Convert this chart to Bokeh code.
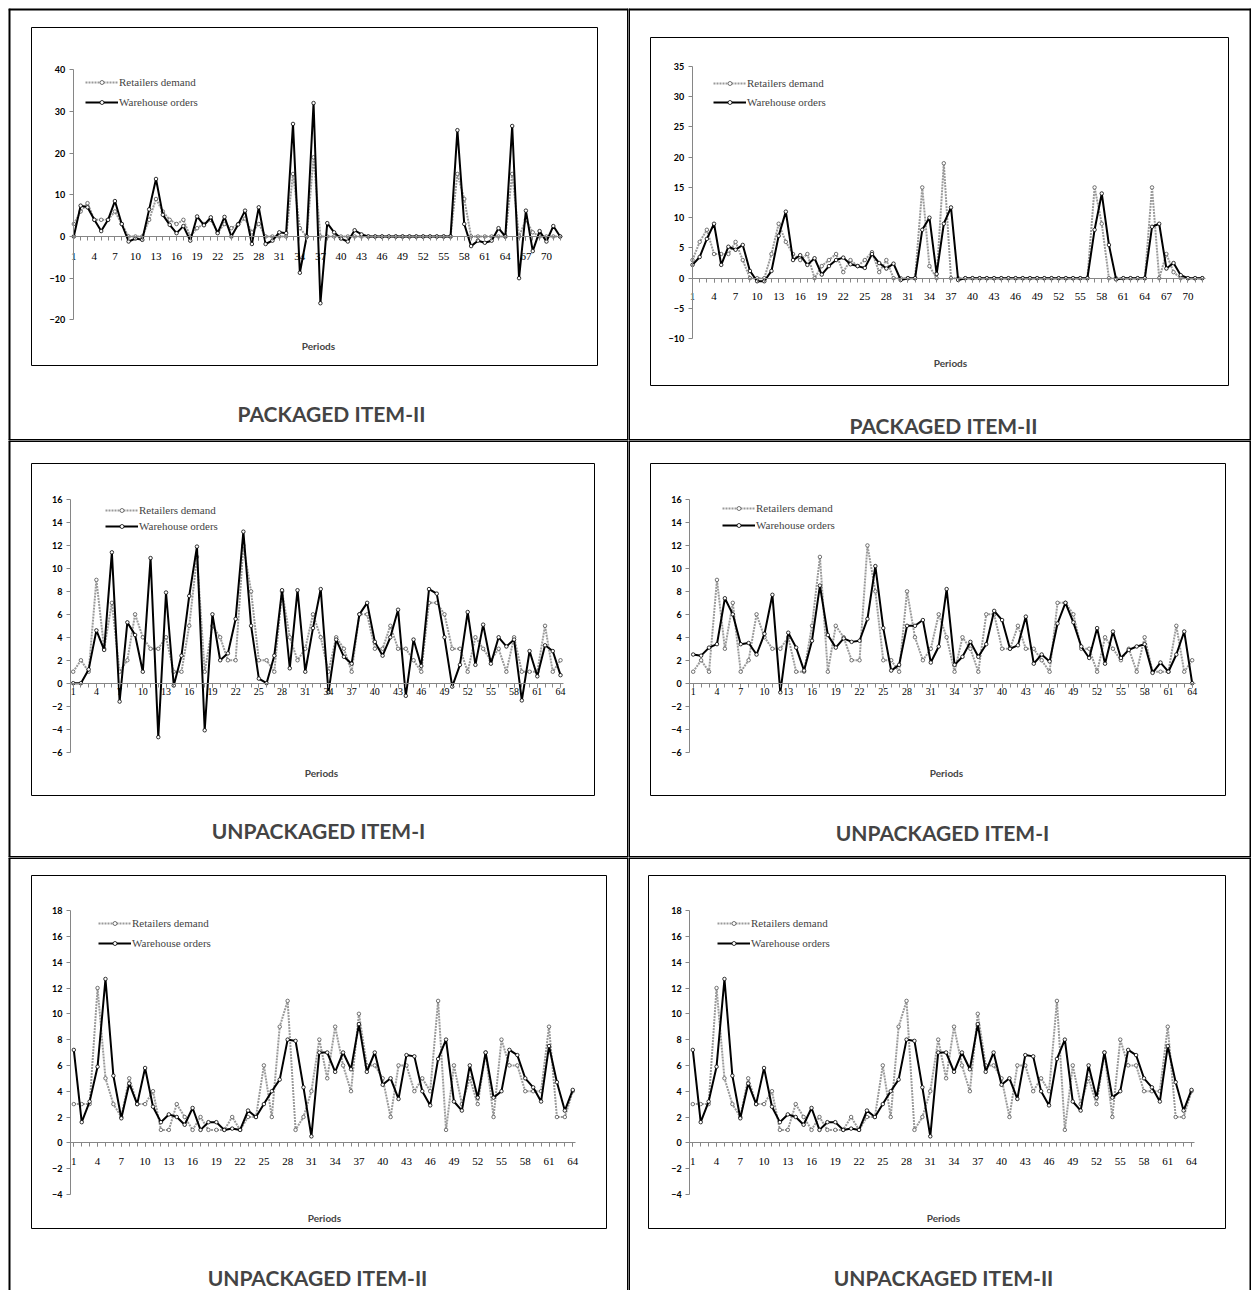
from bokeh.plotting import figure
from bokeh.models import (Range1d, FixedTicker, BoxAnnotation, Label, Legend, LegendItem,
                          Span, Spacer)
from bokeh.layouts import column, row
from bokeh.embed import file_html
from bokeh.resources import INLINE

# ---------------- data ----------------
periods_72 = list(range(1, 73))
periods_64 = list(range(1, 65))

# PACKAGED ITEM-II : retailers demand (same in both charts)
pk2_retailers = [3, 6, 8, 4, 4, 4, 6, 3, 0, 0, 0, 4, 9, 6, 4, 3, 4, 0, 2, 3,
                 4, 1, 3, 2, 3, 4.3, 1, 3, 0, 0, 0, 0, 15, 2, 0, 19, 0, 0, 0, 0,
                 0, 0, 0, 0, 0, 0, 0, 0, 0, 0, 0, 0, 0, 0, 0, 0, 15, 9, 0, 0,
                 0, 0, 0, 0, 15, 0, 4, 1, 0, 0, 0, 0]
pk2_warehouse_a = [0, 7.4, 7, 4, 1.3, 4, 8.5, 3, -1.2, -0.5, -0.8, 6.5, 13.8, 5.2, 2.8, 0.8, 2.5, -1, 4.8, 2.7,
                   4.6, 0.8, 4.7, 0, 2.9, 6.2, -1.8, 7, -1.8, -1, 1, 0.8, 27, -8.7, 0, 32, -16, 3.2, 1, -0.5,
                   -1.2, 1.5, 0.5, 0, 0, 0, 0, 0, 0, 0, 0, 0, 0, 0, 0, 0, 25.5, 3, -2.3, -1,
                   -1.5, -1, 2, 0, 26.5, -10, 6.2, -3.5, 1.3, -1.2, 2.5, 0]
pk2_warehouse_b = [2.2, 3.5, 6.5, 9, 2.2, 5.2, 4.7, 5.5, 1.2, -0.5, -0.5, 1.2, 7, 11, 3, 3.8, 2.2, 3.3, 0.6, 2,
                   3, 3.4, 2.3, 2, 1.7, 4, 2.5, 1.6, 2.4, -0.3, 0, 0, 8, 10, 0.7, 9, 11.7, -0.3, 0, 0,
                   0, 0, 0, 0, 0, 0, 0, 0, 0, 0, 0, 0, 0, 0, 0, 0, 8, 14, 5.5, -0.2,
                   0, 0, 0, 0, 8.5, 9, 1.6, 2.5, 0.5, 0, 0, 0]

# UNPACKAGED ITEM-I
up1_retailers = [1, 2, 1, 9, 3, 7, 1, 2, 6, 4, 3, 3, 4, 1, 1, 5, 11, 1, 5, 4,
                 2, 2, 12, 8, 2, 2, 1, 8, 4, 2, 3, 6, 4, 1, 4, 3, 1, 6, 6, 3,
                 3, 5, 3, 3, 2, 1, 7, 7, 6, 3, 3, 1, 4, 3, 2, 3, 1, 4, 1, 1,
                 1, 5, 1, 2]
up1_warehouse_a = [0, 0, 1.2, 4.6, 2.9, 11.4, -1.6, 5.3, 4.2, 1, 10.9, -4.7, 7.9, -0.2, 2.4, 7.6, 11.9, -4.1, 6, 2,
                   2.6, 5.6, 13.2, 5, 0.4, 0, 2.4, 8.1, 1.3, 8.1, 1, 4.8, 8.2, -0.8, 3.8, 2.3, 1.7, 6, 7, 3.6,
                   2.4, 4, 6.4, -1.1, 3.8, 1.5, 8.2, 7.8, 4, -0.3, 1.6, 6.2, 1.6, 5.1, 1.7, 4, 3.2, 3.8, -1.5, 2.8,
                   0.6, 3.3, 2.8, 0.7]
up1_warehouse_b = [2.5, 2.4, 3.1, 3.4, 7.4, 6, 3.4, 3.5, 2.5, 4.3, 7.7, -0.8, 4.4, 3.1, 1.1, 3.7, 8.5, 4.2, 3.1, 3.9,
                   3.6, 3.7, 5.6, 10.2, 4.8, 1.1, 1.6, 5, 5, 5.5, 1.8, 3.2, 8.2, 1.6, 2.3, 3.6, 2.3, 3.4, 6.3, 5.5,
                   3, 3.3, 5.8, 1.7, 2.5, 1.9, 5.2, 7, 5.3, 3.2, 2.2, 4.8, 1.7, 4.5, 2.2, 2.9, 3.2, 3.4, 0.9, 1.8,
                   1, 2.5, 4.5, 0]

# UNPACKAGED ITEM-II (both charts identical)
up2_retailers = [3, 3, 3, 12, 5, 3, 2, 5, 3, 3, 4, 1, 1, 3, 2, 1, 2, 1, 1, 1,
                 2, 1, 2, 2, 6, 2, 9, 11, 1, 2, 4, 8, 5, 9, 6, 4, 10, 6, 6, 5,
                 2, 6, 6, 4, 5, 4, 11, 1, 6, 3, 5, 3, 7, 2, 8, 6, 6, 4, 4, 4,
                 9, 2, 2, 4]
up2_warehouse = [7.2, 1.6, 3.2, 5.9, 12.7, 5.2, 1.9, 4.6, 3, 5.8, 2.8, 1.6, 2.2, 2, 1.4, 2.7, 1, 1.6, 1.6, 1,
                 1.1, 1, 2.5, 2, 3, 4, 4.9, 8, 7.9, 4.3, 0.5, 7, 7, 5.5, 7, 5.7, 9.2, 5.5, 7, 4.5,
                 5, 3.4, 6.8, 6.7, 4, 2.9, 6.5, 8, 3.2, 2.5, 6, 3.5, 7, 3.5, 4, 7.2, 6.8, 5, 4.3, 3.2,
                 7.5, 4.7, 2.5, 4.1]

captions = ["PACKAGED ITEM-II", "PACKAGED ITEM-II", "UNPACKAGED ITEM-I",
            "UNPACKAGED ITEM-I", "UNPACKAGED ITEM-II", "UNPACKAGED ITEM-II"]
series_names = ["Retailers demand", "Warehouse orders"]
x_title = "Periods"

# ---------------- layout constants (page pixels) ----------------
COLS = [(8, 620), (628, 623)]
ROWS = [(8, 432), (440, 417), (857, 433)]

SANS = "Lato"
SERIF = "Liberation Serif"


def make_panel(cell, geo, box, legend_pos, leg_h, periods_label, caption_pos,
               periods, rd, wo, ylo, yhi, ystep, caption, xfs, edges):
    L, T, W, H = cell
    x0, dx, y0, k, axis_x = geo

    def X(px):
        return 1 + (px - x0) / dx

    def Y(py):
        return (y0 - py) / k

    n = len(periods)
    p = figure(width=W, height=H, x_range=Range1d(X(L), X(L + W)),
               y_range=Range1d(Y(T + H), Y(T)), output_backend="svg",
               toolbar_location=None, min_border=0)
    p.title.visible = False
    p.xgrid.visible = False
    p.ygrid.visible = False
    p.outline_line_color = None
    p.background_fill_color = "white"
    p.border_fill_color = "white"

    # table cell borders, centred on the cell edge (half of each width is visible)
    el, er, et, eb = edges
    if el:
        p.add_layout(Span(location=X(L), dimension="height", line_color="black", line_width=el))
    if er:
        p.add_layout(Span(location=X(L + W), dimension="height", line_color="black", line_width=er))
    if et:
        p.add_layout(Span(location=Y(T), dimension="width", line_color="black", line_width=et))
    if eb:
        p.add_layout(Span(location=Y(T + H), dimension="width", line_color="black", line_width=eb))

    ax_col = "#868686"
    xa = p.xaxis[0]
    xa.fixed_location = 0
    xa.bounds = (X(axis_x), n + 0.4)
    xa.ticker = FixedTicker(ticks=list(range(1, n + 1, 3)), minor_ticks=list(range(1, n + 1)))
    xa.axis_line_color = ax_col
    xa.major_tick_line_color = ax_col
    xa.minor_tick_line_color = ax_col
    xa.major_tick_in = 0
    xa.major_tick_out = 4
    xa.minor_tick_in = 0
    xa.minor_tick_out = 4
    xa.major_label_text_font = SERIF
    xa.major_label_text_font_size = xfs[0]
    xa.major_label_standoff = xfs[1]
    xa.major_label_text_color = "black"

    ya = p.yaxis[0]
    ya.fixed_location = X(axis_x)
    ya.bounds = (ylo, yhi)
    ya.ticker = FixedTicker(ticks=list(range(ylo, yhi + 1, ystep)), minor_ticks=[])
    ya.axis_line_color = ax_col
    ya.major_tick_line_color = ax_col
    ya.major_tick_in = 0
    ya.major_tick_out = 4
    ya.major_label_text_font = SANS
    ya.major_label_text_font_style = "bold"
    ya.major_label_text_font_size = "9px"
    ya.major_label_standoff = 4
    ya.major_label_text_color = "black"

    # chart area border
    bl, bt, br, bb = box
    p.add_layout(BoxAnnotation(left=X(bl), right=X(br), top=Y(bt), bottom=Y(bb),
                               fill_color=None, fill_alpha=0, line_color="black",
                               line_alpha=1, line_width=1))

    rd_line = p.line(periods, rd, line_color="#9a9a9a", line_width=2, line_dash="2 1")
    rd_pts = p.scatter(periods, rd, marker="circle", size=3.5, fill_color="white",
                       line_color="#505050", line_width=0.8)
    wo_line = p.line(periods, wo, line_color="black", line_width=2)
    wo_pts = p.scatter(periods, wo, marker="circle", size=3.5, fill_color="white",
                       line_color="black", line_width=0.8)

    lx, ly = legend_pos
    legend = Legend(items=[LegendItem(label=series_names[0], renderers=[rd_line, rd_pts]),
                           LegendItem(label=series_names[1], renderers=[wo_line, wo_pts])],
                    location=(lx - L, (T + H) - (ly - leg_h / 2 + 2 * leg_h)),
                    glyph_width=33, glyph_height=10, label_height=leg_h,
                    spacing=0, padding=0, margin=0, label_standoff=1,
                    label_text_font=SERIF, label_text_font_size="11px",
                    border_line_color=None, background_fill_alpha=0)
    p.add_layout(legend)

    px_, py_ = periods_label
    p.add_layout(Label(x=X(px_), y=Y(py_), text=x_title, text_align="center",
                       text_baseline="middle", text_font=SANS, text_font_style="bold",
                       text_font_size="10px"))
    cx, cy = caption_pos
    p.add_layout(Label(x=X(cx), y=Y(cy), text=caption, text_align="center",
                       text_baseline="middle", text_font=SANS, text_font_style="bold",
                       text_font_size="21px"))
    return p


def cell(r, c):
    return (COLS[c][0], ROWS[r][0], COLS[c][1], ROWS[r][1])


p1 = make_panel(cell(0, 0), (73.3, 6.85, 236, 4.17, 72.7), (31, 27, 597, 365), (85, 82), 20,
                (318, 345), (331, 413), periods_72, pk2_retailers, pk2_warehouse_a,
                -20, 40, 10, captions[0], ("11px", 12), (4, 3, 4, 3))
p2 = make_panel(cell(0, 1), (692, 7.18, 277.7, 6.05, 691.7), (650, 37, 1228, 385), (713, 82.7), 19,
                (950, 362), (943, 425), periods_72, pk2_retailers, pk2_warehouse_b,
                -10, 35, 5, captions[1], ("11px", 11), (3, 4, 4, 3))
p3 = make_panel(cell(1, 0), (72.7, 7.735, 682.7, 11.48, 70), (31, 463, 594, 795), (105, 510), 16,
                (321, 772), (318, 830), periods_64, up1_retailers, up1_warehouse_a,
                -6, 16, 2, captions[2], ("10px", 1), (4, 3, 3, 3))
p4 = make_panel(cell(1, 1), (692.7, 7.92, 682.7, 11.48, 689.3), (650, 463, 1225, 795), (722, 508), 17,
                (946, 772), (942, 832), periods_64, up1_retailers, up1_warehouse_b,
                -6, 16, 2, captions[3], ("10px", 1), (3, 4, 3, 3))
p5 = make_panel(cell(2, 0), (73.3, 7.92, 1142.3, 12.9, 70), (31, 875, 606, 1228), (98, 922.7), 20,
                (324, 1217), (317, 1277), periods_64, up2_retailers, up2_warehouse,
                -4, 18, 2, captions[4], ("11px", 11), (4, 3, 3, 0))
p6 = make_panel(cell(2, 1), (692.3, 7.916, 1142.3, 12.9, 689.3), (648, 875, 1225, 1228), (717, 922.7), 20,
                (943, 1217), (943, 1277), periods_64, up2_retailers, up2_warehouse,
                -4, 18, 2, captions[5], ("11px", 11), (3, 4, 3, 0))

grid = column(row(p1, p2), row(p3, p4), row(p5, p6))
layout = column(Spacer(height=8), row(Spacer(width=8), grid))
open("out.html", "w").write(file_html(layout, INLINE))
